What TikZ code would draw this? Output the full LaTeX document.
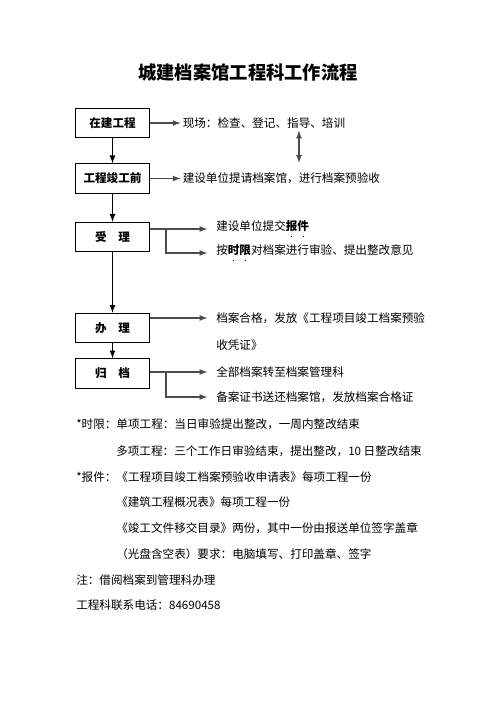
\documentclass[tikz,border=0pt]{standalone}
\usepackage{fontspec}
\newfontfamily\cjk{Noto Sans CJK SC}
\usetikzlibrary{positioning}
%着重号
\newcommand\zhdian[1]{\ooalign{\textbf{#1}\cr\hidewidth\raisebox{-0.55em}{\rule{1.1pt}{1.1pt}}\hidewidth\cr}}

\begin{document}
\begin{tikzpicture}[x=0.75pt,y=-0.75pt,font=\cjk\fontsize{8.7}{10}\selectfont,
  kuang/.style={draw,line width=0.9pt,minimum width=56pt,minimum height=22pt,inner sep=1pt,font=\cjk\bfseries\fontsize{8.7}{10}\selectfont},
  wenzi/.style={anchor=west,inner sep=1.5pt},
  jiantou/.style={-latex,line width=1pt,black!70},
  fenzhi/.style={jiantou,shorten >=5pt}]
\useasboundingbox (0,0) rectangle (496,702);
%标题
\node[font=\cjk\bfseries\fontsize{13.7}{16}\selectfont] (title) at (248,73) {城建档案馆工程科工作流程};
%流程框
\node[kuang] (b1) at (112.5,123) {在建工程};
\node[kuang] (b2) at (112.5,178.5) {工程竣工前};
\node[kuang] (b3) at (112.5,237) {受　理};
\node[kuang] (b4) at (112.5,328) {办　理};
\node[kuang] (b5) at (112.5,373.5) {归　档};
\draw[jiantou,black] (b1) -- (b2);
\draw[jiantou,black] (b2) -- (b3);
\draw[jiantou,black] (b3) -- (b4);
\draw[jiantou,black] (b4) -- (b5);

%右侧说明
\node[wenzi] (t1) at (180.5,123) {现场：检查、登记、指导、培训};
\node[wenzi] (t2) at (180.5,178.5) {建设单位提请档案馆，进行档案预验收};
\node[wenzi] (t3a) at (214,229) {建设单位提交\zhdian{报}\zhdian{件}};
\node[wenzi] (t3b) at (214,253) {按\zhdian{时}\zhdian{限}对档案进行审验、提出整改意见};
\node[wenzi] (t4a) at (214,318) {档案合格，发放《工程项目竣工档案预验};
\node[wenzi] (t4b) at (214,345) {收凭证》};
\node[wenzi] (t5a) at (214,372) {全部档案转至档案管理科};
\node[wenzi] (t5b) at (214,397) {备案证书送还档案馆，发放档案合格证};

\draw[jiantou] (b1) -- (t1);
\draw[jiantou] (b2) -- (t2);
\coordinate (sx) at (299,0);
\draw[jiantou,latex-latex,shorten >=6pt] (t1.south -| sx) -- (t2.north -| sx);

\coordinate (s3) at (166,229);
\draw[fenzhi] (b3.east |- t3a.west) -- (t3a.west);
\draw[fenzhi] (s3) |- (t3b.west);
\draw[fenzhi] (b4.east |- t4a.west) -- (t4a.west);
\coordinate (s5) at (166,372);
\draw[fenzhi] (b5.east |- t5a.west) -- (t5a.west);
\draw[fenzhi] (s5) |- (t5b.west);

%附注
\node[wenzi] (f1) at (74,424) {*时限：单项工程：当日审验提出整改，一周内整改结束};
\node[wenzi] (f2) at (114,451) {多项工程：三个工作日审验结束，提出整改，10 日整改结束};
\node[wenzi] (f3) at (74,477) {*报件：《工程项目竣工档案预验收申请表》每项工程一份};
\node[wenzi] (f4) at (114,502) {《建筑工程概况表》每项工程一份};
\node[wenzi] (f5) at (114,528) {《竣工文件移交目录》两份，其中一份由报送单位签字盖章};
\node[wenzi] (f6) at (114,554) {（光盘含空表）要求：电脑填写、打印盖章、签字};
\node[wenzi] (f7) at (74,580) {注：借阅档案到管理科办理};
\node[wenzi] (f8) at (74,605) {工程科联系电话：84690458};
\end{tikzpicture}
\end{document}
